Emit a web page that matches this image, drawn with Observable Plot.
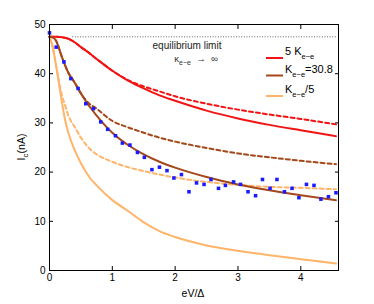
<!DOCTYPE html>
<html>
<head>
<meta charset="utf-8">
<script src="https://cdn.jsdelivr.net/npm/d3@7"></script>
<script src="https://cdn.jsdelivr.net/npm/@observablehq/plot@0.6"></script>
<style>
html,body{margin:0;padding:0;background:#fff;}
#chart{position:relative;width:374px;height:304px;}
</style>
</head>
<body>
<div id="chart"></div>
<script>
// ---- data ----
const xTicks = [0, 1, 2, 3, 4];
const yTicks = [0, 10, 20, 30, 40, 50];
const eqLimit = 47.5;
const eqStart = 0.37;
const eqEnd = 4.58;

const expX = [0,0.106,0.23,0.34,0.455,0.577,0.70,0.815,0.926,1.05,1.16,1.28,1.40,1.51,1.63,1.75,1.87,1.98,2.10,2.22,2.34,2.46,2.57,2.69,2.80,2.93,3.04,3.16,3.28,3.39,3.51,3.62,3.74,3.86,3.97,4.09,4.21,4.32,4.44,4.56];
const expY = [48.3,45.4,42.4,39.0,37.0,33.9,32.9,30.2,28.7,27.4,25.9,25.5,24.0,23.0,20.5,21.0,20.3,18.8,19.5,16.0,17.8,17.5,18.5,16.7,17.3,18.0,17.5,16.0,15.2,18.5,16.7,18.5,16.0,16.7,14.8,17.5,17.3,14.5,15.0,15.8];

const redX       = [0,0.1,0.2,0.3,0.4,0.5,0.6,0.75,1,1.25,1.5,1.75,2,2.5,3,3.5,4,4.56];
const redSolid   = [47.5,47.5,47.4,47.1,46.4,45.4,44.5,43.0,40.6,38.6,37.0,35.6,34.5,32.5,30.9,29.6,28.5,27.3];
const redDashed  = [47.5,47.5,47.4,47.1,46.4,45.4,44.5,43.0,40.6,38.7,37.4,36.4,35.4,33.9,32.7,31.7,30.8,29.7];

const brownX      = [0,0.05,0.1,0.2,0.3,0.4,0.5,0.6,0.75,1,1.25,1.5,1.75,2,2.5,3,3.5,4,4.56];
const brownSolid  = [47.5,47.4,46.8,43.3,40.2,38.2,36.0,34.0,31.5,28.0,25.5,23.6,22.1,20.9,19.0,17.5,16.3,15.3,14.3];
const brownDashed = [47.5,47.4,46.8,43.3,40.2,38.2,36.0,34.3,32.9,30.4,29.1,28.0,27.0,26.2,24.9,23.8,23.0,22.3,21.6];

const orangeX      = [0,0.05,0.1,0.15,0.2,0.25,0.3,0.4,0.5,0.65,0.75,1,1.25,1.5,1.75,2,2.5,3,3.5,4,4.56];
const orangeSolid  = [47.5,45.5,42.0,38.0,34.0,30.5,28.0,24.5,21.8,18.7,17.3,14.3,12.1,9.8,8.0,6.8,5.1,4.0,3.1,2.3,1.4];
const orangeDashed = [47.5,45.5,42.0,38.5,35.5,33.5,31.5,29.2,27.0,24.6,23.6,22.1,21.0,20.2,19.5,18.9,18.0,17.4,17.0,16.8,16.5];

const legendLabels = [["5 K", "e−e", ""], ["K", "e−e", "=30.8"], ["K", "e−e", "/5"]];

// ---- styles ----
const RED = "#f21414", BROWN = "#a4481c", ORANGE = "#ffb46a", BLUE = "#1a1aff";
const FONT = "'Liberation Sans', Arial, Helvetica, sans-serif";

const toRows = (xs, ys) => xs.map((x, i) => ({x, y: ys[i]}));
const series = [
  {rows: toRows(orangeX, orangeDashed), color: ORANGE, dash: "4,3"},
  {rows: toRows(orangeX, orangeSolid), color: ORANGE, dash: null},
  {rows: toRows(brownX, brownDashed), color: BROWN, dash: "4,3"},
  {rows: toRows(redX, redDashed), color: RED, dash: "4,3"},
  {rows: toRows(redX, redSolid), color: RED, dash: null},
  {rows: toRows(brownX, brownSolid), color: BROWN, dash: null}
];
const exp = toRows(expX, expY);
const fmt = d => String(d);

const plot = Plot.plot({
  width: 374,
  height: 304,
  marginLeft: 49,
  marginRight: 36,
  marginTop: 24,
  marginBottom: 34,
  x: {domain: [0, 4.6]},
  y: {domain: [0, 50]},
  style: {fontFamily: FONT, fontSize: "10px", background: "white", color: "black"},
  marks: [
    Plot.ruleY([eqLimit], {x1: eqStart, x2: eqEnd, stroke: "#666", strokeWidth: 1, strokeDasharray: "1,1.6"}),
    ...series.map(s => Plot.line(s.rows, {x: "x", y: "y", stroke: s.color, strokeWidth: 2, strokeDasharray: s.dash, curve: "monotone-x"})),
    Plot.dot(exp, {x: "x", y: "y", symbol: "square", r: 2, fill: BLUE, stroke: "none"}),
    Plot.frame({stroke: "black", strokeWidth: 1}),
    Plot.axisX({anchor: "bottom", ticks: xTicks, tickSize: 0, tickPadding: 3, tickFormat: fmt, label: null}),
    Plot.axisX({anchor: "bottom", ticks: xTicks, tickSize: -4, tickFormat: () => "", label: null}),
    Plot.axisX({anchor: "top", ticks: xTicks, tickSize: -4, tickFormat: () => "", label: null}),
    Plot.axisY({anchor: "left", ticks: yTicks, tickSize: 0, tickPadding: 4, tickFormat: fmt, label: null}),
    Plot.axisY({anchor: "left", ticks: yTicks, tickSize: -4, tickFormat: () => "", label: null}),
    Plot.axisY({anchor: "right", ticks: yTicks, tickSize: -4, tickFormat: () => "", label: null})
  ]
});
document.getElementById("chart").appendChild(plot);

// ---- annotations, legend, axis labels ----
const svg = d3.select(plot);
const g = svg.append("g").attr("font-family", FONT).attr("fill", "black").attr("text-anchor", "start");

// x label
g.append("text").attr("x", 193).attr("y", 297).attr("text-anchor", "middle").attr("font-size", 10.5).text("eV/Δ");

// y label
const yl = g.append("text").attr("transform", "translate(25,147) rotate(-90)").attr("text-anchor", "middle").attr("font-size", 10.5);
yl.append("tspan").text("I");
yl.append("tspan").attr("dy", 3).attr("font-size", 8).text("c");
yl.append("tspan").attr("dy", -3).text("(nA)");

// equilibrium annotation
g.append("text").attr("x", 187).attr("y", 49).attr("text-anchor", "middle").attr("font-size", 10).attr("fill", "#222").text("equilibrium limit");
const an = g.append("text").attr("x", 196).attr("y", 62).attr("text-anchor", "middle").attr("font-size", 9.5).attr("fill", "#333");
an.append("tspan").text("κ");
an.append("tspan").attr("dy", 3).attr("font-size", 7).text("e−e");
an.append("tspan").attr("dy", -3).text(" \u00a0→ \u00a0∞");

// legend
const legColors = [RED, BROWN, ORANGE];
const legY = [58, 75.5, 96];
legendLabels.forEach((lab, i) => {
  const y = legY[i];
  g.append("line").attr("x1", 266).attr("x2", 283).attr("y1", y).attr("y2", y)
    .attr("stroke", legColors[i]).attr("stroke-width", 2);
  const t = g.append("text").attr("x", 285).attr("y", y - 3).attr("font-size", 11).attr("text-anchor", "start");
  t.append("tspan").text(lab[0]);
  t.append("tspan").attr("dy", 4).attr("font-size", 7.5).text(lab[1]);
  if (lab[2]) t.append("tspan").attr("dy", -4).text(lab[2]);
});
</script>
</body>
</html>
